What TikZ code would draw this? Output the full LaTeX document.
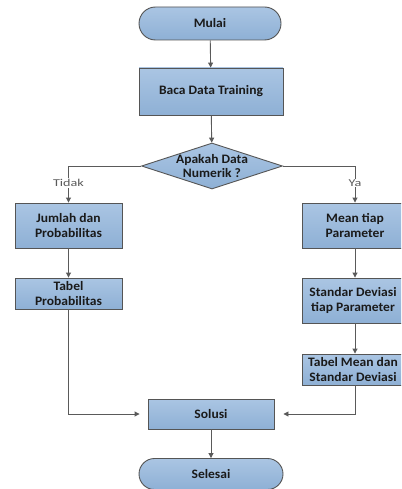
\documentclass[tikz,border=0pt]{standalone}
\usepackage{fontspec}
\setmainfont{Carlito}
\newfontfamily\boxfont[FakeStretch=1.05]{Carlito}
\newfontfamily\lblfont[FakeStretch=1.35]{Carlito}
\usetikzlibrary{shapes.geometric,shapes.misc,arrows.meta}
\definecolor{boxtop}{HTML}{AAC5E3}
\definecolor{boxbot}{HTML}{8EB0D5}
\definecolor{edgegray}{HTML}{555555}
\definecolor{linegray}{HTML}{5A5A5A}
\definecolor{txt}{HTML}{1A1A1A}
\tikzset{
  base/.style={draw=edgegray, line width=0.9pt, top color=boxtop, bottom color=boxbot,
    text=txt, font=\boxfont\fontsize{12.9}{14.6}\selectfont\bfseries, align=center, inner sep=0pt},
  procbox/.style={base, rectangle, minimum width=#1, minimum height=46pt},
  termbox/.style={base, rounded rectangle, minimum width=142pt, minimum height=33pt},
  decbox/.style={base, diamond, aspect=3.05, minimum width=141pt, minimum height=46pt, inner sep=-7pt},
  flow/.style={draw=linegray, line width=0.9pt, -{Triangle[length=5pt,width=5pt]}},
  lbl/.style={fill=white, text=linegray, font=\lblfont\fontsize{10.5}{11}\selectfont, inner sep=1pt},
  rtext/.style={text width=#1, align=center, xshift=-1.5pt},
}
\begin{document}
\begin{tikzpicture}[x=1pt,y=-1pt]
\clip (0,0) rectangle (401,489);
\fill[white] (0,0) rectangle (401,489);
\node[termbox] (mulai) at (210,23.5) {Mulai};
\node[procbox=144pt, minimum height=47pt] (baca) at (211,91.5) {Baca Data Training};
\node[decbox] (dec) at (212,166) {Apakah Data\\Numerik ?};
\node[procbox=107pt, minimum height=45pt] (jumlah) at (68.5,225.5) {Jumlah dan\\Probabilitas};
\node[procbox=107pt, minimum height=31pt] (tabprob) at (68.5,293.5) {Tabel\\Probabilitas};
\node[procbox=106pt, minimum height=45pt] (mean) at (355,225.5) {Mean tiap\\Parameter};
\node[procbox=106pt, minimum height=45pt] (std) at (355,300.5) {};
\node[procbox=106pt, minimum height=31pt] (tabmean) at (355,369.5) {};
\node[font=\boxfont\fontsize{12.9}{14.6}\selectfont\bfseries, text=txt, align=center, inner sep=0pt]
  (stdtext) at (353,300.5) {Standar Deviasi\\tiap Parameter};
\node[font=\boxfont\fontsize{12.9}{14.6}\selectfont\bfseries, text=txt, align=center, inner sep=0pt]
  (tabmeantext) at (353,369.5) {Tabel Mean dan\\Standar Deviasi};
\node[procbox=126pt, minimum height=30pt] (solusi) at (211,414) {Solusi};
\node[termbox, minimum width=144pt, minimum height=31pt] (selesai) at (211,474) {Selesai};

\draw[flow] (mulai) -- (baca);
\draw[flow] (baca) -- (dec);
\draw[flow] (dec.west) -| (jumlah.north);
\draw[flow] (dec.east) -| (mean.north);
\node[lbl] (tidak) at (68.5,183) {Tidak};
\node[lbl] (ya) at (355,183) {Ya};
\draw[flow] (jumlah) -- (tabprob);
\draw[flow] (mean) -- (std);
\draw[flow] (std) -- (tabmean);
\draw[flow, shorten >=8pt] (tabprob.south) |- (solusi.west);
\draw[flow, shorten >=9pt] (tabmean.south) |- (solusi.east);
\draw[flow] (solusi) -- (selesai);
\end{tikzpicture}
\end{document}
